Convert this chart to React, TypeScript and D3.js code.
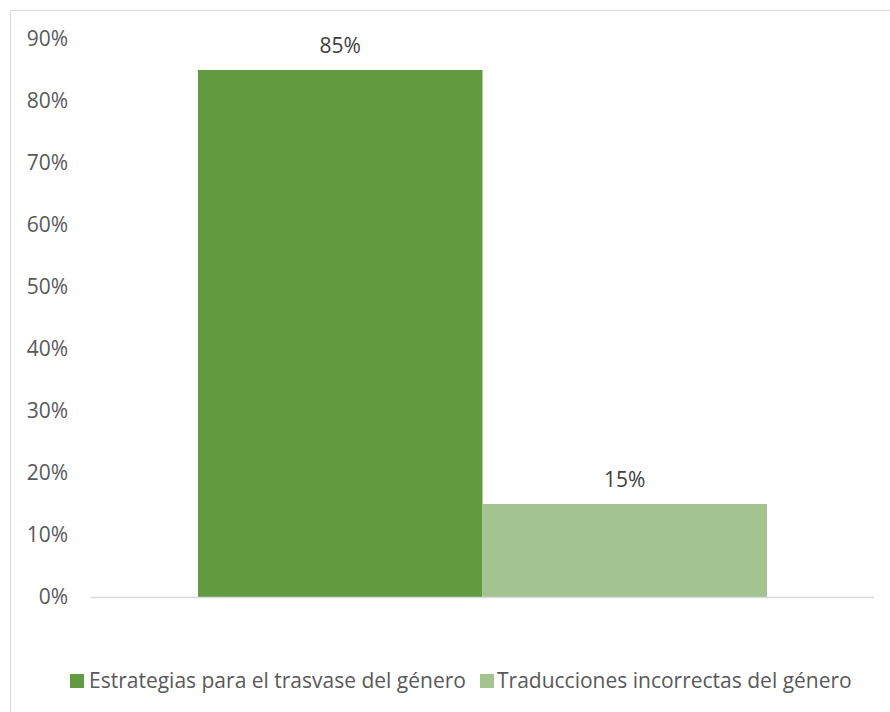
import React from "react";
import * as d3 from "d3";

const categories = ["Estrategias para el trasvase del género", "Traducciones incorrectas del género"];
const values = [0.85, 0.15];
const colors = ["#629b3f", "#a3c490"];
const yTicks = [0, 0.1, 0.2, 0.3, 0.4, 0.5, 0.6, 0.7, 0.8, 0.9];

export default function App() {
  const W = 890, H = 712;
  const plotLeft = 91, plotRight = 874, plotTop = 39, plotBottom = 597;
  const y = d3.scaleLinear().domain([0, 0.9]).range([plotBottom, plotTop]);
  const x = d3.scaleBand<string>().domain(["g"]).range([plotLeft, plotRight]).paddingInner(0).paddingOuter(0.188);
  const groupX = x("g") as number;
  const groupW = x.bandwidth();
  const xs = d3.scaleBand<string>().domain(categories).range([groupX, groupX + groupW]);
  const fmt = d3.format(".0%");
  const font = "'Open Sans', 'Liberation Sans', sans-serif";
  const fs = 21;
  const legendItems = [
    { sx: 70, tx: 89 },
    { sx: 480, tx: 497 },
  ];
  return (
    <svg width={W} height={H} style={{ position: "absolute", left: 0, top: 0, background: "#fff" }} fontFamily={font}>
      <rect x={10.5} y={10.5} width={W + 20} height={H + 20} fill="#fff" stroke="#d9d9d9" strokeWidth={1} />
      {yTicks.map((t) => (
        <text key={t} x={68} y={y(t)} dy="0.35em" textAnchor="end" fontSize={fs} fill="#595959">
          {fmt(t)}
        </text>
      ))}
      {categories.map((c, i) => (
        <g key={c}>
          <rect x={xs(c)} y={y(values[i])} width={xs.bandwidth()} height={plotBottom - y(values[i])} fill={colors[i]} />
          <text x={(xs(c) as number) + xs.bandwidth() / 2} y={y(values[i]) - 24} dy="0.35em" textAnchor="middle" fontSize={fs} fill="#404040">
            {fmt(values[i])}
          </text>
        </g>
      ))}
      <line x1={plotLeft} x2={plotRight} y1={plotBottom + 0.5} y2={plotBottom + 0.5} stroke="#d9d9d9" strokeWidth={1.5} />
      {categories.map((c, i) => (
        <g key={"lg" + i}>
          <rect x={legendItems[i].sx} y={674} width={14} height={14} fill={colors[i]} />
          <text x={legendItems[i].tx} y={681} dy="0.35em" fontSize={fs} fill="#595959">
            {c}
          </text>
        </g>
      ))}
    </svg>
  );
}
